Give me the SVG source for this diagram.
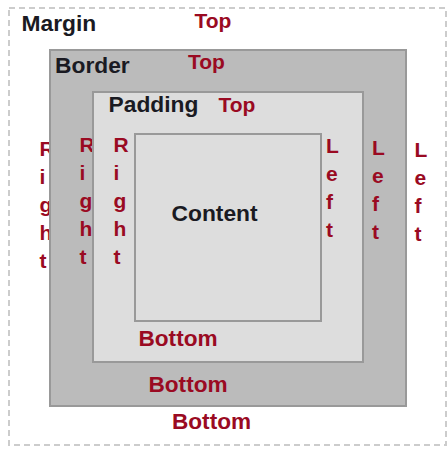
<svg xmlns="http://www.w3.org/2000/svg" width="447" height="449" viewBox="0 0 447 449">
<style>
.lbl{font-family:"Liberation Sans",Arial,sans-serif;font-weight:bold;font-size:22.8px;fill:#1a1a22}
.red{font-family:"Liberation Sans",Arial,sans-serif;font-weight:bold;font-size:21px;fill:#9a0a22}
.bot{font-size:22.6px}
.box{stroke:#999999;stroke-width:2}
</style>
<rect width="447" height="449" fill="#ffffff"/>
<g id="margin">
<rect x="9" y="8" width="437" height="437" fill="none" stroke="#cccccc" stroke-width="2" stroke-dasharray="6 4"/>
<text class="lbl" x="21.5" y="31">Margin</text>
<text class="red" x="194.5" y="27.7">Top</text>
<text class="red" x="39.5" y="156">R<tspan x="39.5" dy="28">i</tspan><tspan x="39.5" dy="28">g</tspan><tspan x="39.5" dy="28">h</tspan><tspan x="39.5" dy="28">t</tspan></text>
<text class="red" x="414.5" y="157.3">L<tspan x="414.5" dy="28">e</tspan><tspan x="414.5" dy="28">f</tspan><tspan x="414.5" dy="28">t</tspan></text>
<text class="red bot" x="172" y="429.3">Bottom</text>
</g>
<g id="border">
<rect class="box" x="50" y="50" width="356" height="356" fill="#bbbbbb"/>
<text class="lbl" x="55" y="73.3">Border</text>
<text class="red" x="188" y="69">Top</text>
<text class="red" x="79.5" y="151.7">R<tspan x="79.5" dy="28">i</tspan><tspan x="79.5" dy="28">g</tspan><tspan x="79.5" dy="28">h</tspan><tspan x="79.5" dy="28">t</tspan></text>
<text class="red" x="372" y="155.3">L<tspan x="372" dy="28">e</tspan><tspan x="372" dy="28">f</tspan><tspan x="372" dy="28">t</tspan></text>
<text class="red bot" x="148.5" y="391.7">Bottom</text>
</g>
<g id="padding">
<rect class="box" x="93" y="92" width="270" height="270" fill="#dddddd"/>
<text class="lbl" x="108.5" y="111.7">Padding</text>
<text class="red" x="218.5" y="111.7">Top</text>
<text class="red" x="113.5" y="151.7">R<tspan x="113.5" dy="28">i</tspan><tspan x="113.5" dy="28">g</tspan><tspan x="113.5" dy="28">h</tspan><tspan x="113.5" dy="28">t</tspan></text>
<text class="red" x="326" y="153.3">L<tspan x="326" dy="28">e</tspan><tspan x="326" dy="28">f</tspan><tspan x="326" dy="28">t</tspan></text>
<text class="red bot" x="138.5" y="346">Bottom</text>
</g>
<g id="content">
<rect class="box" x="135" y="134" width="186" height="187" fill="#dddddd" stroke="#8c8c8c"/>
<text class="lbl" x="171.5" y="221">Content</text>
</g>
</svg>
